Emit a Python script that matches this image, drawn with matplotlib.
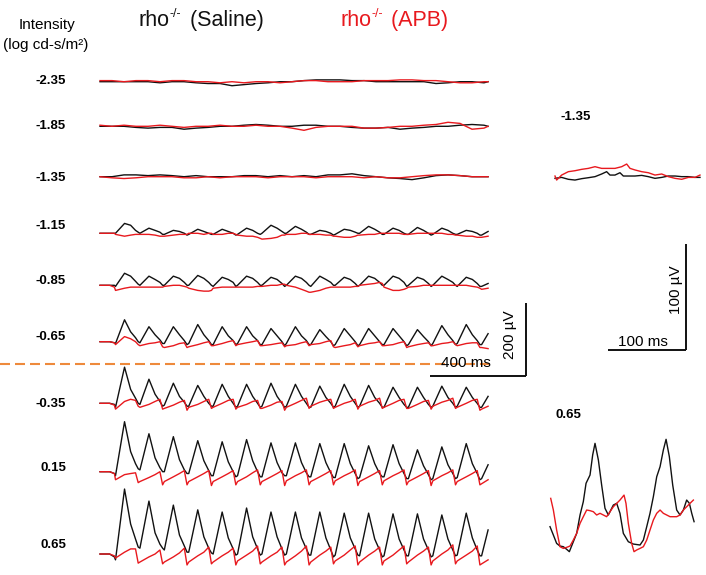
import numpy as np
import matplotlib
matplotlib.use("Agg")
import matplotlib.pyplot as plt

# ------------------------------------------------------------------ data
intensities = ["-2.35", "-1.85", "-1.35", "-1.15", "-0.85", "-0.65", "-0.35", "0.15", "0.65"]

# flicker sampling grid (ms): pre-stimulus, 15 flash cycles x 5 phases, tail
pre_t_ms = [0, 20, 40, 60]
flash_onset_ms = 64.6
flash_period_ms = 101.7
n_flash_cycles = 15
cycle_phases = [0.0, 0.37, 0.62, 0.82, 0.93]
tail_t_ms = [1590, 1617]
# coarse grid for the near-threshold rows
coarse_t_ms = list(range(0, 1601, 50)) + [1617]

# amplitudes in microvolts (saline = black, APB = red)
saline_m235 = [0,0,0,0,0,-3,0,0,-3,-5,-5,-11,-8,-5,-3,0,0,3,5,5,5,3,3,0,0,0,0,0,-5,-3,0,0,-3,0]
apb_m235    = [3,3,0,3,3,0,3,3,0,0,-3,0,-3,0,0,-3,0,3,3,0,0,0,3,3,3,5,5,3,3,0,-3,-3,0,0]
saline_m185 = [0,0,0,-3,-5,-3,-3,-8,-5,-3,0,0,3,5,3,0,0,3,3,0,0,-3,-5,-5,-3,-8,-5,-3,0,0,3,5,3,0]
apb_m185    = [3,0,3,0,0,3,0,-3,0,0,3,0,0,3,0,0,-5,-11,-3,0,0,0,-5,-5,-3,0,0,3,5,11,8,-8,-5,0]
saline_m135 = [0,0,5,5,3,5,3,0,3,0,0,0,3,3,0,3,0,3,0,5,5,8,3,0,-3,-5,-8,-3,3,5,3,0,0,0]
apb_m135    = [0,-3,-5,-3,0,0,0,-3,-3,0,-3,0,0,0,-3,0,0,0,-3,0,0,0,-3,0,-3,-3,0,3,5,5,3,0,0,0]

saline_m115 = [0,0,0,0,
    0,27,22,8,3,  0,14,8,3,-3,  -3,8,5,0,-5,  -3,11,5,0,-3,  -3,11,5,0,-5,
    -3,14,8,0,-3,  0,22,14,5,0,  0,19,11,3,-3,  -3,8,5,0,-5,  -3,11,8,3,0,
    0,19,11,3,-3,  -3,14,8,0,-3,  -3,16,8,0,-5,  -3,14,8,0,-3,  -3,8,5,0,-5,
    -5,5]
apb_m115 = [0,0,0,0,
    -3,-8,-5,-3,-3,  -3,-3,-5,-8,-8,  -8,-5,-3,-3,-3,  0,0,-3,0,0,  -3,-3,0,0,-3,
    -5,-8,-8,-11,-14,  -16,-14,-11,-5,-5,  -3,-3,0,0,-3,  -3,-3,-5,-5,-8,  -8,-11,-11,-8,-5,
    -5,-3,-3,0,0,  0,0,0,-3,-3,  -3,0,0,0,0,  0,0,-3,-3,-5,  -5,-8,-8,-11,-11,
    -11,-8]

saline_m085 = [0,0,0,0,
    -3,33,25,11,3,  0,25,16,8,0,  0,25,19,8,0,  0,27,19,8,0,  -3,22,16,8,-3,
    0,25,19,8,0,  0,22,16,5,-3,  0,25,19,8,0,  -3,25,16,8,0,  0,22,16,5,-3,
    0,25,19,8,0,  0,25,19,8,-3,  0,22,16,5,-3,  0,25,16,8,0,  -3,22,16,5,-3,
    -3,5]
apb_m085 = [0,0,0,-5,
    -14,-8,-5,-5,-5,  -5,-5,-5,-5,-5,  -3,0,0,-3,-5,  -8,-14,-16,-16,-14,  -8,-5,-5,-5,-5,
    -5,-5,-5,-3,-3,  -3,0,0,3,3,  0,-5,-11,-16,-19,  -19,-14,-8,-5,-5,  -5,-5,-5,-3,-3,
    0,3,5,8,5,  -5,-14,-14,-11,-8,  -5,-3,0,0,0,  0,0,0,0,0,  0,0,-3,-5,-8,
    -11,-8]

saline_m065 = [0,0,0,-3,
    -5,60,27,11,0,  -3,41,19,5,-5,  -5,41,19,3,-8,  -5,47,19,3,-8,  -8,41,16,3,-8,
    -5,41,16,3,-8,  -8,36,16,0,-11,  -5,41,16,3,-8,  -8,33,14,0,-11,  -8,36,16,0,-11,
    -8,36,16,0,-8,  -8,36,16,0,-11,  -8,33,14,0,-11,  -5,44,19,3,-8,  -5,47,19,3,-8,
    -8,22]
apb_m065 = [0,0,0,-3,
    -8,14,8,0,-8,  -11,-5,-3,0,-14,  -16,-11,-5,-3,-16,  -14,-8,-3,0,-11,  -11,-5,0,3,-11,
    -8,-3,0,3,-11,  -11,-8,-5,-3,-14,  -11,-8,-3,0,-11,  -8,-5,0,3,-14,  -16,-11,-8,-3,-14,
    -11,-5,-3,0,-11,  -11,-8,-3,0,-16,  -14,-8,-5,-3,-11,  -11,-5,-3,0,-8,  -11,-5,-3,-3,-16,
    -16,-19]

saline_m035 = [0,0,0,-3,
    -11,99,38,14,0,  -3,66,25,5,-8,  -5,55,19,3,-8,  -8,49,19,0,-8,  -8,52,19,0,-11,
    -8,52,19,0,-11,  -8,55,19,0,-11,  -8,52,19,0,-11,  -11,47,16,0,-11,  -8,52,19,0,-11,
    -8,49,16,0,-11,  -11,44,16,-3,-11,  -11,44,16,-3,-11,  -8,47,16,0,-11,  -8,44,16,0,-11,
    -11,19]
apb_m035 = [0,0,0,-5,
    -16,5,11,8,-8,  -11,-3,5,11,-16,  -14,-5,3,8,-19,  -11,-3,5,11,-14,  -11,0,8,11,-16,
    -11,-3,5,8,-14,  -14,-5,3,5,-19,  -11,0,8,14,-14,  -8,3,8,11,-14,  -11,0,5,11,-16,
    -8,3,8,14,-14,  -11,0,8,11,-14,  -14,-3,5,8,-16,  -8,3,8,14,-14,  -11,0,8,11,-19,
    -16,-8]

saline_p015 = [0,0,0,-5,
    -11,137,55,22,8,  5,104,38,11,0,  0,96,33,5,-5,  -5,85,30,3,-11,  -11,82,27,0,-14,
    -11,88,30,0,-14,  -14,79,25,-3,-11,  -11,79,25,-3,-14,  -14,77,25,-3,-16,  -16,77,22,-5,-19,
    -16,71,22,-5,-14,  -14,74,22,-5,-19,  -19,60,16,-8,-22,  -19,68,19,-5,-19,  -16,77,22,-5,-22,
    -19,19]
apb_p015 = [0,0,0,-5,
    -22,-8,-5,-3,-30,  -27,-16,-8,0,-36,  -27,-14,-5,3,-36,  -27,-14,-5,3,-38,  -27,-14,-5,3,-36,
    -27,-14,-3,5,-36,  -27,-14,-5,3,-38,  -25,-11,-3,5,-36,  -27,-14,-5,3,-36,  -25,-11,-3,5,-38,
    -27,-14,-5,3,-36,  -25,-11,-3,5,-36,  -27,-14,-5,3,-38,  -25,-11,-3,5,-36,  -27,-14,-5,3,-36,
    -33,-22]

saline_p065 = [0,0,0,-8,
    -16,178,82,41,19,  16,145,58,27,16,  11,134,52,22,5,  5,121,47,16,3,  0,115,44,14,-3,
    0,126,47,14,-3,  0,115,47,14,-3,  0,115,44,14,-3,  -3,115,44,11,-8,  -3,112,44,14,-3,
    -5,112,41,11,-8,  -5,110,41,11,-5,  -5,110,41,11,-8,  -5,107,41,11,-5,  -3,112,44,11,-5,
    -5,66]
apb_p065 = [0,0,0,-5,
    -11,5,14,14,-25,  -22,-8,0,11,-27,  -22,-8,3,16,-30,  -22,-5,5,19,-27,  -22,-5,5,16,-30,
    -19,-3,8,22,-27,  -22,-5,5,19,-30,  -22,-5,8,22,-30,  -22,-3,8,19,-27,  -19,-3,11,22,-30,
    -22,-3,8,19,-30,  -19,-3,11,22,-27,  -22,-3,8,19,-30,  -19,0,11,25,-27,  -19,-3,8,22,-30,
    -27,-16]

# expanded views (time in ms from the start of each snippet, amplitude in microvolts)
inset_m135_saline_t = [0,8.5,17.1,25.6,34.2,42.7,51.3,59.8,66.2,70.5,76.9,83.3,87.6,94.0,102.6,
                       111.1,119.7,128.2,136.8,145.3,153.9,162.4,171.0,179.5,185.9]
inset_m135_saline_v = [0,0.9,-0.9,-1.6,-0.3,0.6,1.6,4.1,6.3,3.1,3.1,5.3,2.2,2.2,2.2,
                       2.8,1.6,0,0.9,2.2,2.2,1.6,1.6,0.9,0.9]
inset_m135_apb_t = [0,2.1,8.5,17.1,25.6,34.2,42.7,51.3,59.8,68.4,76.9,85.5,91.9,96.2,102.6,
                    111.1,119.7,128.2,136.8,145.3,153.9,162.4,171.0,179.5,185.9]
inset_m135_apb_v = [2.2,-1.6,3.1,6.3,7.2,8.5,9.4,11.0,9.4,9.4,9.4,11.0,13.5,9.4,7.9,
                    6.3,5.3,3.1,4.1,1.6,0,-0.9,0.9,0.9,3.1]

inset_p065_saline_t = [0,4.3,8.5,12.8,17.1,21.4,24.8,29.9,34.2,38.5,42.7,46.2,51.3,54.7,57.7,
                       62.0,66.2,70.5,74.8,81.2,85.5,89.7,94.0,100.4,106.8,115.4,119.7,124.0,
                       128.2,132.5,136.8,141.1,145.3,148.8,153.0,157.3,162.4,166.7,171.0,175.2,
                       178.7,181.7,184.7]
inset_p065_saline_v = [18.9,11.0,3.1,0.6,0,-2.5,-4.7,4.7,12.6,29.9,42.5,59.8,67.6,86.5,97.5,
                       81.8,58.2,36.2,29.9,39.3,40.9,31.5,12.6,4.7,2.5,1.6,6.3,18.9,
                       31.5,47.2,66.0,75.5,91.2,101.3,84.9,58.2,34.6,29.9,34.6,44.0,
                       40.9,31.5,23.6]
inset_p065_apb_t = [0.9,4.3,8.5,12.8,17.1,21.4,25.6,29.9,34.2,38.5,42.7,47.0,51.3,55.6,59.8,
                    64.1,68.4,72.6,76.9,81.2,85.5,89.7,94.9,97.4,100.4,104.7,107.7,111.1,115.4,
                    119.7,124.0,128.2,132.5,136.8,141.1,145.3,149.6,153.9,158.2,162.4,166.7,
                    171.0,175.2,179.5,183.8]
inset_p065_apb_v = [45.6,34.6,15.7,0,-1.6,-0.6,0.6,6.3,12.6,22.0,28.3,34.6,34.0,33.0,29.9,
                    31.5,29.9,28.3,33.0,37.7,40.9,44.0,48.7,40.9,22.0,3.1,-4.7,-3.1,-1.6,
                    0,6.3,15.7,25.2,31.5,34.6,31.5,29.9,28.3,28.3,28.3,29.9,34.6,37.7,40.9,44.0]

# ------------------------------------------------------------------ layout
W, H, DPI = 706, 575, 100
BLACK, RED, ORANGE = "#111111", "#E8191E", "#EE8A3C"
FONT = "Liberation Sans"

flicker_t = (pre_t_ms
             + [flash_onset_ms + flash_period_ms * (n + p)
                for n in range(n_flash_cycles) for p in cycle_phases]
             + tail_t_ms)

rows = [
    (coarse_t_ms, saline_m235, apb_m235),
    (coarse_t_ms, saline_m185, apb_m185),
    (coarse_t_ms, saline_m135, apb_m135),
    (flicker_t, saline_m115, apb_m115),
    (flicker_t, saline_m085, apb_m085),
    (flicker_t, saline_m065, apb_m065),
    (flicker_t, saline_m035, apb_m035),
    (flicker_t, saline_p015, apb_p015),
    (flicker_t, saline_p065, apb_p065),
]
row_offsets_uv = [1351.5, 1229.3, 1091.2, 936.2, 793.7, 639.2, 470.4, 283.0, 57.5]
label_y_px = [81, 126, 178, 226, 281, 337, 404, 468, 545]

fig = plt.figure(figsize=(W / DPI, H / DPI), dpi=DPI)
renderer = fig.canvas.get_renderer()


def fx(x):
    return x / W


def fy(y):
    return 1 - y / H


# main traces: 0.24 px/ms, 0.365 px/uV
ax = fig.add_axes([0, 0, 1, 1])
ax.set_xlim(-100 / 0.24, (W - 100) / 0.24)
ax.set_ylim(0, H / 0.365)
ax.axis("off")
ax.patch.set_alpha(0)

for (t, sal, apb), off in zip(rows, row_offsets_uv):
    ax.plot(t, np.asarray(sal) + off, color=BLACK, lw=1.0)
    ax.plot(t, np.asarray(apb) + off, color=RED, lw=1.0)

# main scale bars: 400 ms / 200 uV
bar_x_end, bar_y = 1773.8, 545.2
ax.plot([bar_x_end - 400, bar_x_end], [bar_y, bar_y], color=BLACK, lw=1.4,
        solid_capstyle="butt")
ax.plot([bar_x_end, bar_x_end], [bar_y, bar_y + 200], color=BLACK, lw=1.4,
        solid_capstyle="butt")

# expanded-view traces: 0.78 px/ms, 1.06 px/uV
ax2 = fig.add_axes([0, 0, 1, 1])
ax2.set_xlim(-555 / 0.78, (W - 555) / 0.78)
ax2.set_ylim(0, H / 1.06)
ax2.axis("off")
ax2.patch.set_alpha(0)

m135_off = (0.0, 374.2)
p065_off = (-6.4, 26.7)
ax2.plot(np.asarray(inset_m135_saline_t) + m135_off[0],
         np.asarray(inset_m135_saline_v) + m135_off[1], color=BLACK, lw=1.0)
ax2.plot(np.asarray(inset_m135_apb_t) + m135_off[0],
         np.asarray(inset_m135_apb_v) + m135_off[1], color=RED, lw=1.0)
ax2.plot(np.asarray(inset_p065_saline_t) + p065_off[0],
         np.asarray(inset_p065_saline_v) + p065_off[1], color=BLACK, lw=1.0)
ax2.plot(np.asarray(inset_p065_apb_t) + p065_off[0],
         np.asarray(inset_p065_apb_v) + p065_off[1], color=RED, lw=1.0)

ibar_x_end, ibar_y = 168.0, 212.3
ax2.plot([ibar_x_end - 100, ibar_x_end], [ibar_y, ibar_y], color=BLACK, lw=1.4,
         solid_capstyle="butt")
ax2.plot([ibar_x_end, ibar_x_end], [ibar_y, ibar_y + 100], color=BLACK, lw=1.4,
         solid_capstyle="butt")

# orange dashed separator
ax.plot([0, fx(493)], [fy(364), fy(364)], transform=fig.transFigure,
        color=ORANGE, lw=1.5, ls=(0, (4.8, 2.4)))

# ------------------------------------------------------------------ text
fig.text(fx(47), fy(25), "Intensity", ha="center", va="center",
         fontsize=11, family=FONT)
fig.text(fx(46), fy(45), "(log cd-s/m\u00b2)", ha="center", va="center",
         fontsize=11, family=FONT)


def header(x_px, base_px, color, tail):
    """'rho' + superscript '-/-' + tail, composed piece by piece."""
    t1 = fig.text(fx(x_px), fy(base_px), "rho", ha="left", va="baseline",
                  fontsize=15.5, family=FONT, color=color)
    x = t1.get_window_extent(renderer).x1 + 1
    t2 = fig.text(x / W, fy(base_px - 9), "-/-", ha="left", va="baseline",
                  fontsize=9, family=FONT, color=color)
    x = t2.get_window_extent(renderer).x1 + 2
    fig.text(x / W, fy(base_px), tail, ha="left", va="baseline",
             fontsize=15.5, family=FONT, color=color)


header(138, 26, BLACK, " (Saline)")
header(340, 26, RED, " (APB)")

for lab, y in zip(intensities, label_y_px):
    fig.text(fx(66), fy(y), lab, ha="right", va="center", fontsize=9.5,
             fontweight="bold", family=FONT)

fig.text(fx(576), fy(117), "-1.35", ha="center", va="center", fontsize=9.5,
         fontweight="bold", family=FONT)
fig.text(fx(568), fy(415), "0.65", ha="center", va="center", fontsize=9.5,
         fontweight="bold", family=FONT)

fig.text(fx(466), fy(363), "400 ms", ha="center", va="center", fontsize=11,
         family=FONT)
fig.text(fx(510), fy(335), "200 \u00b5V", ha="center", va="center", fontsize=11,
         family=FONT, rotation=90)
fig.text(fx(643), fy(342), "100 ms", ha="center", va="center", fontsize=11,
         family=FONT)
fig.text(fx(676), fy(290), "100 \u00b5V", ha="center", va="center", fontsize=11,
         family=FONT, rotation=90)

fig.savefig("out.png", dpi=DPI)
